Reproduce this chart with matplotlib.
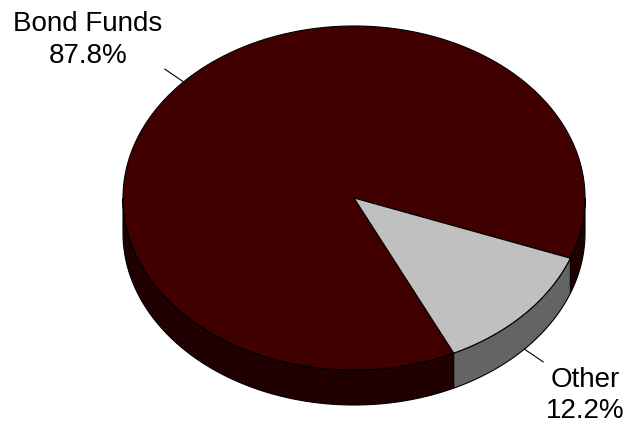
import numpy as np
import matplotlib.pyplot as plt
from matplotlib.patches import Polygon

plt.rcParams['font.family'] = ['Liberation Sans', 'DejaVu Sans']

labels = ["Bond Funds", "Other"]
values = [87.8, 12.2]
pct_labels = ["87.8%", "12.2%"]
top_colors = ["#400000", "#C0C0C0"]
side_colors = ["#200000", "#646464"]

fig = plt.figure(figsize=(6.35, 4.23), dpi=100)
ax = fig.add_axes([0, 0, 1, 1])
ax.set_xlim(0, 635)
ax.set_ylim(423, 0)
ax.axis('off')

cx, cy, rx, ry, depth = 354, 198, 231, 172, 35
start = -20.5


def pt(t, dy=0.0, f=1.0):
    r = np.radians(t)
    return cx + f * rx * np.cos(r), cy - f * ry * np.sin(r) + dy


total = sum(values)
angles = []
a = start
for v in values:
    span = 360.0 * v / total
    angles.append((a, a + span))
    a += span

# sides (front half only)
for (a1, a2), sc in zip(angles, side_colors):
    for k in range(-2, 3):
        lo = max(a1, 180 + 360 * k)
        hi = min(a2, 360 + 360 * k)
        if hi > lo:
            ts = np.linspace(lo, hi, 200)
            top = [pt(t) for t in ts]
            bot = [pt(t, depth) for t in ts[::-1]]
            ax.add_patch(Polygon(top + bot, closed=True, facecolor=sc,
                                 edgecolor='black', linewidth=0.8, zorder=1))

# top faces
for (a1, a2), tc in zip(angles, top_colors):
    ts = np.linspace(a1, a2, 400)
    pts = [(cx, cy)] + [pt(t) for t in ts]
    ax.add_patch(Polygon(pts, closed=True, facecolor=tc,
                         edgecolor='black', linewidth=0.8, zorder=2))

# leader lines
for (a1, a2) in angles:
    mid = (a1 + a2) / 2
    s = np.sin(np.radians(mid))
    d = depth if s < 0 else 0
    x0, y0 = pt(mid, d)
    x1, y1 = pt(mid, d, 1.11)
    ax.plot([x0, x1], [y0, y1], color='black', linewidth=0.8, zorder=3)

# labels
ax.text(88, 31, labels[0], ha='center', va='baseline', fontsize=20, color='black')
ax.text(88, 63, pct_labels[0], ha='center', va='baseline', fontsize=20, color='black')
ax.text(585, 387, labels[1], ha='center', va='baseline', fontsize=20, color='black')
ax.text(585, 418, pct_labels[1], ha='center', va='baseline', fontsize=20, color='black')

fig.savefig("out.png", dpi=100)
